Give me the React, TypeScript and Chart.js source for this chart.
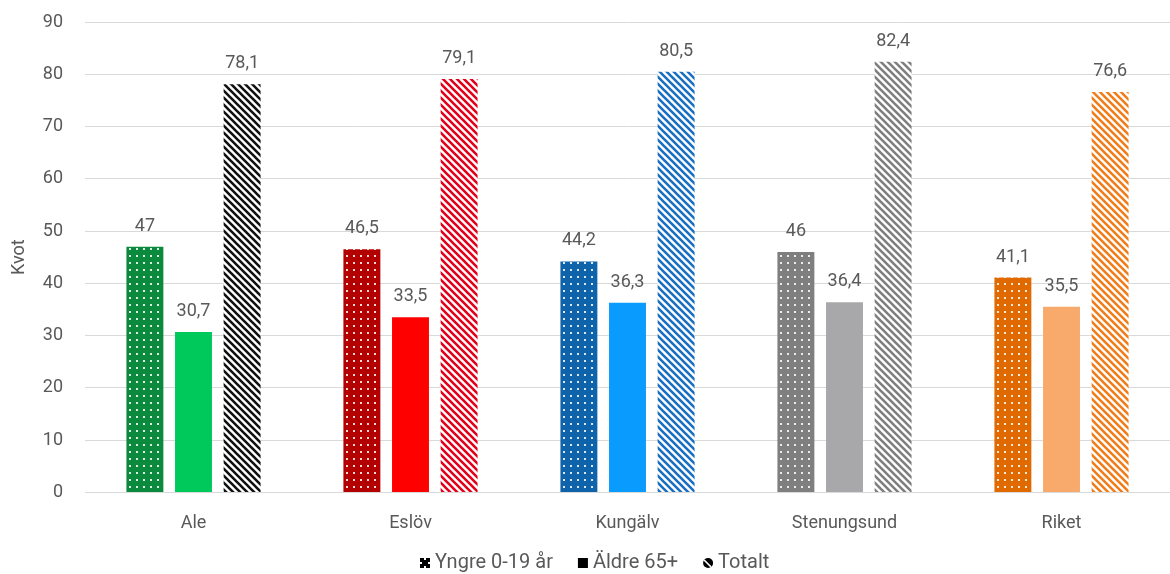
import React, { useEffect, useRef } from "react";
import { Chart, registerables } from "chart.js";

Chart.register(...registerables);

const categories = ["Ale", "Eslöv", "Kungälv", "Stenungsund", "Riket"];
const seriesNames = ["Yngre 0-19 år", "Äldre 65+", "Totalt"];
const yngre = [47, 46.5, 44.2, 46, 41.1];
const aldre = [30.7, 33.5, 36.3, 36.4, 35.5];
const totalt = [78.1, 79.1, 80.5, 82.4, 76.6];
const dotColors = ["#0b8a3e", "#b30000", "#0f63ab", "#7f7f80", "#e06a00"];
const solidColors = ["#00c95c", "#ff0000", "#0a9bff", "#a8a8aa", "#f7aa6c"];
const stripeColors = ["#111111", "#e3001b", "#1a6fc0", "#7f7f80", "#f07d1a"];
const yTicks = [0, 10, 20, 30, 40, 50, 60, 70, 80, 90];

const FONT = "Roboto, 'Noto Sans', sans-serif";
const TXT = "#595959";

function dotPattern(color: string): CanvasPattern {
  const c = document.createElement("canvas");
  c.width = 7;
  c.height = 7;
  const g = c.getContext("2d")!;
  g.fillStyle = color;
  g.fillRect(0, 0, 7, 7);
  g.fillStyle = "rgba(255,255,255,0.85)";
  g.fillRect(3, 3, 2, 2);
  return g.createPattern(c, "repeat")!;
}

function stripePattern(color: string): CanvasPattern {
  const s = 7;
  const c = document.createElement("canvas");
  c.width = s;
  c.height = s;
  const g = c.getContext("2d")!;
  g.fillStyle = "#ffffff";
  g.fillRect(0, 0, s, s);
  g.strokeStyle = color;
  g.lineWidth = 2.6;
  g.beginPath();
  g.moveTo(-s, 0);
  g.lineTo(s, 2 * s);
  g.moveTo(0, 0);
  g.lineTo(s, s);
  g.moveTo(0, -s);
  g.lineTo(2 * s, s);
  g.stroke();
  return g.createPattern(c, "repeat")!;
}

const fmt = (v: number) => String(v).replace(".", ",");

const labelPlugin = {
  id: "barLabels",
  afterDatasetsDraw(chart: any) {
    const ctx = chart.ctx;
    ctx.save();
    ctx.font = `18px ${FONT}`;
    ctx.fillStyle = TXT;
    ctx.textAlign = "center";
    ctx.textBaseline = "alphabetic";
    chart.data.datasets.forEach((ds: any, i: number) => {
      const meta = chart.getDatasetMeta(i);
      meta.data.forEach((bar: any, j: number) => {
        ctx.fillText(fmt(ds.data[j]), bar.x, bar.y - 16);
      });
    });
    ctx.restore();
  },
};

const legendPlugin = {
  id: "customLegend",
  afterDraw(chart: any) {
    const ctx = chart.ctx;
    ctx.save();
    ctx.font = `20px ${FONT}`;
    ctx.textBaseline = "middle";
    ctx.textAlign = "left";
    const cy = 563;
    let x = 420;
    seriesNames.forEach((name, i) => {
      if (i === 0) {
        ctx.fillStyle = "#000";
        ctx.fillRect(x, cy - 5, 10, 10);
        ctx.fillStyle = "#fff";
        ctx.fillRect(x + 4, cy - 5, 2, 2);
        ctx.fillRect(x + 4, cy + 3, 2, 2);
        ctx.fillRect(x, cy - 1, 2, 2);
        ctx.fillRect(x + 8, cy - 1, 2, 2);
      } else if (i === 1) {
        ctx.fillStyle = "#000";
        ctx.fillRect(x, cy - 5, 10, 10);
      } else {
        ctx.beginPath();
        ctx.arc(x + 5, cy, 5, 0, Math.PI * 2);
        ctx.fillStyle = "#000";
        ctx.fill();
        ctx.strokeStyle = "#fff";
        ctx.lineWidth = 1.6;
        ctx.beginPath();
        ctx.moveTo(x + 1, cy - 3);
        ctx.lineTo(x + 8, cy + 4);
        ctx.stroke();
      }
      ctx.fillStyle = TXT;
      const tx = x + 15;
      ctx.fillText(name, tx, cy);
      x = tx + ctx.measureText(name).width + 25;
    });
    ctx.restore();
  },
};

export default function App() {
  const ref = useRef<HTMLCanvasElement>(null);
  useEffect(() => {
    document.body.style.margin = "0";
    const chart = new Chart(ref.current!, {
      type: "bar",
      data: {
        labels: categories,
        datasets: [
          { label: seriesNames[0], data: yngre, backgroundColor: dotColors.map(dotPattern) as any },
          { label: seriesNames[1], data: aldre, backgroundColor: solidColors },
          { label: seriesNames[2], data: totalt, backgroundColor: stripeColors.map(stripePattern) as any },
        ],
      },
      options: {
        animation: false,
        responsive: false,
        categoryPercentage: 0.672,
        barPercentage: 0.76,
        layout: { padding: { top: 22, right: 0, left: 0, bottom: 28 } },
        plugins: {
          tooltip: { enabled: false },
          legend: { display: false },
        },
        scales: {
          x: {
            grid: { display: false },
            border: { display: true, color: "#d9d9d9" },
            ticks: { font: { family: FONT, size: 18 }, color: TXT, padding: 12 },
          },
          y: {
            min: 0,
            max: 90,
            afterBuildTicks: (s: any) => {
              s.ticks = yTicks.map((v) => ({ value: v }));
            },
            afterFit: (s: any) => {
              s.width = 85;
              s.paddingTop = 0;
              s.paddingBottom = 0;
            },
            grid: { color: "#d9d9d9", drawTicks: false },
            border: { display: false },
            ticks: { font: { family: FONT, size: 18 }, color: TXT, padding: 22 },
            title: {
              display: true,
              text: "Kvot",
              font: { family: FONT, size: 18 },
              color: TXT,
              padding: { top: 9, bottom: 0 },
            },
          },
        },
      },
      plugins: [labelPlugin, legendPlugin],
    });
    return () => chart.destroy();
  }, []);
  return (
    <div style={{ width: 1170, height: 574 }}>
      <canvas ref={ref} width={1170} height={574} style={{ display: "block" }} />
    </div>
  );
}
